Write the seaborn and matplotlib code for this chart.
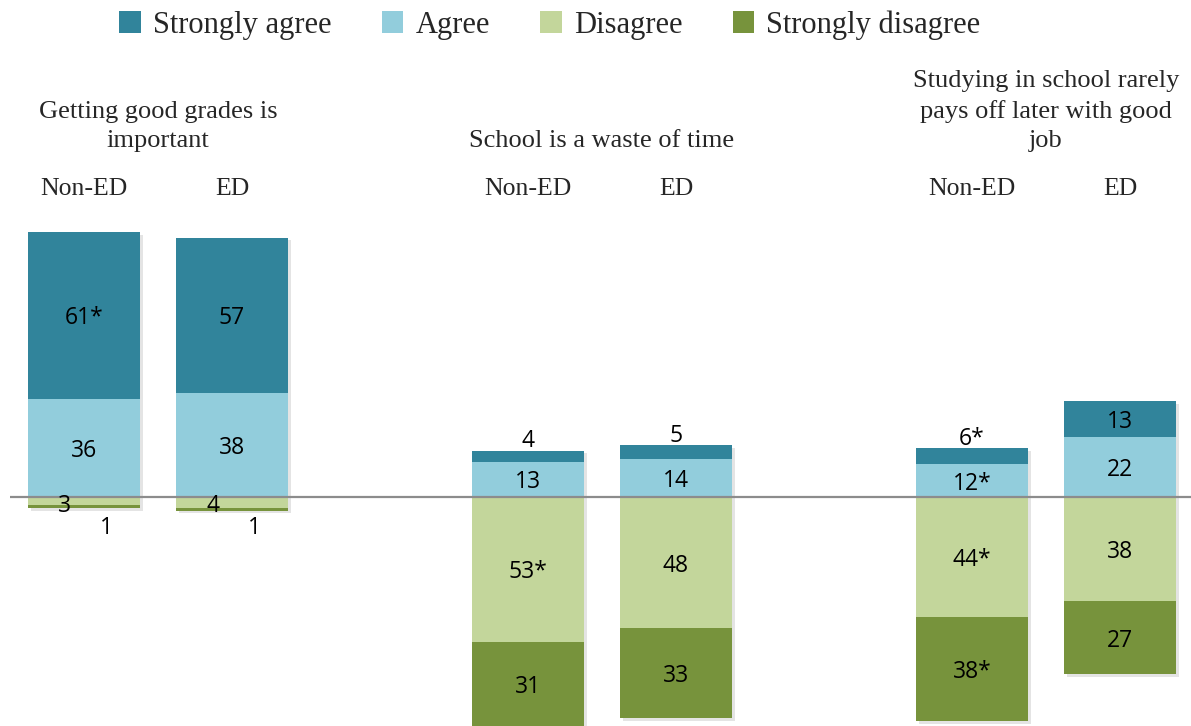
import matplotlib
matplotlib.use("Agg")
import matplotlib.pyplot as plt
import matplotlib.patheffects as pe
from matplotlib.patches import Patch
import seaborn as sns
import pandas as pd
import numpy as np

# ---- data ----
statements = ["Getting good grades is\nimportant",
              "School is a waste of time",
              "Studying in school rarely\npays off later with good\njob"]
groups = ["Non-ED", "ED"]
positions = [0, 1, 3, 4, 6, 7]

strongly_agree = [61, 57, 4, 5, 6, 13]
agree = [36, 38, 13, 14, 12, 22]
disagree = [3, 4, 53, 48, 44, 38]
strongly_disagree = [1, 1, 31, 33, 38, 27]

sa_labels = ["61*", "57", "4", "5", "6*", "13"]
ag_labels = ["36", "38", "13", "14", "12*", "22"]
di_labels = ["3", "4", "53*", "48", "44*", "38"]
sd_labels = ["1", "1", "31", "33", "38*", "27"]

series_names = ["Strongly agree", "Agree", "Disagree", "Strongly disagree"]
colors = ["#31849B", "#92CDDC", "#C3D69B", "#77933C"]

df = pd.DataFrame({
    "pos": positions,
    "sa": strongly_agree,
    "ag": agree,
    "di": disagree,
    "sd": strongly_disagree,
})
df["pos_total"] = df["sa"] + df["ag"]
df["neg_total"] = -(df["di"] + df["sd"])
df["neg_di"] = -df["di"]

sns.set_theme(style="white")
serif = ["Liberation Serif", "DejaVu Serif"]
sans = ["Open Sans", "DejaVu Sans"]

fig = plt.figure(figsize=(11.91, 7.26), dpi=100)
ax = fig.add_axes([0, 0, 1, 1])

BW = 0.757
shadow = [pe.SimplePatchShadow(offset=(2, -2), shadow_rgbFace="#888888", alpha=0.22), pe.Normal()]

common = dict(x="pos", native_scale=True, orient="x", width=BW, errorbar=None,
              saturation=1, ax=ax, linewidth=0)
sns.barplot(data=df, y="pos_total", color=colors[0], path_effects=shadow, **common)
sns.barplot(data=df, y="ag", color=colors[1], **common)
sns.barplot(data=df, y="neg_total", color=colors[3], path_effects=shadow, **common)
sns.barplot(data=df, y="neg_di", color=colors[2], **common)

px_per_x = 148.0
px_per_y = 2.73
ax.set_xlim(-84 / px_per_x, (1191 - 84) / px_per_x)
ax.set_ylim(-(726 - 497) / px_per_y, 497 / px_per_y)
ax.axis("off")

# zero line
ax.plot([-0.5, 8], [0, 0], color="#8C8C8C", lw=1.6, zorder=5, solid_capstyle="butt")

lab_kw = dict(ha="center", va="center_baseline", fontsize=16.5, family=sans, color="black", zorder=6)
for i, p in enumerate(positions):
    sa, ag, di, sd = strongly_agree[i], agree[i], disagree[i], strongly_disagree[i]
    # agree
    ax.text(p, ag / 2, ag_labels[i], **lab_kw)
    # strongly agree
    if sa >= 8:
        ax.text(p, ag + sa / 2, sa_labels[i], **lab_kw)
    else:
        ax.text(p, ag + sa + 4.5, sa_labels[i], **lab_kw)
    # disagree
    if di >= 8:
        ax.text(p, -di / 2, di_labels[i], **lab_kw)
    else:
        ax.text(p - 0.13, -2.2, di_labels[i], **lab_kw)
    # strongly disagree
    if sd >= 8:
        ax.text(p, -di - sd / 2, sd_labels[i], **lab_kw)
    else:
        ax.text(p + 0.15, -10.2, sd_labels[i], **lab_kw)

# statement titles and group labels
for k, title in enumerate(statements):
    c = (positions[2 * k] + positions[2 * k + 1]) / 2
    ax.text(c, (497 - 152) / px_per_y, title, ha="center", va="bottom",
            fontsize=19, family=serif, linespacing=1.42)
    for j, g in enumerate(groups):
        ax.text(positions[2 * k + j], (497 - 189) / px_per_y, g, ha="center", va="center",
                fontsize=18.5, family=serif)

handles = [Patch(facecolor=c, edgecolor="none") for c in colors]
fig.legend(handles, series_names, loc="center", bbox_to_anchor=(550 / 1191, 1 - 25 / 726),
           ncol=4, frameon=False, prop={"family": serif, "size": 22},
           handlelength=0.7, handleheight=0.7, handletextpad=0.4, columnspacing=1.65)

fig.savefig("out.png", dpi=100)
